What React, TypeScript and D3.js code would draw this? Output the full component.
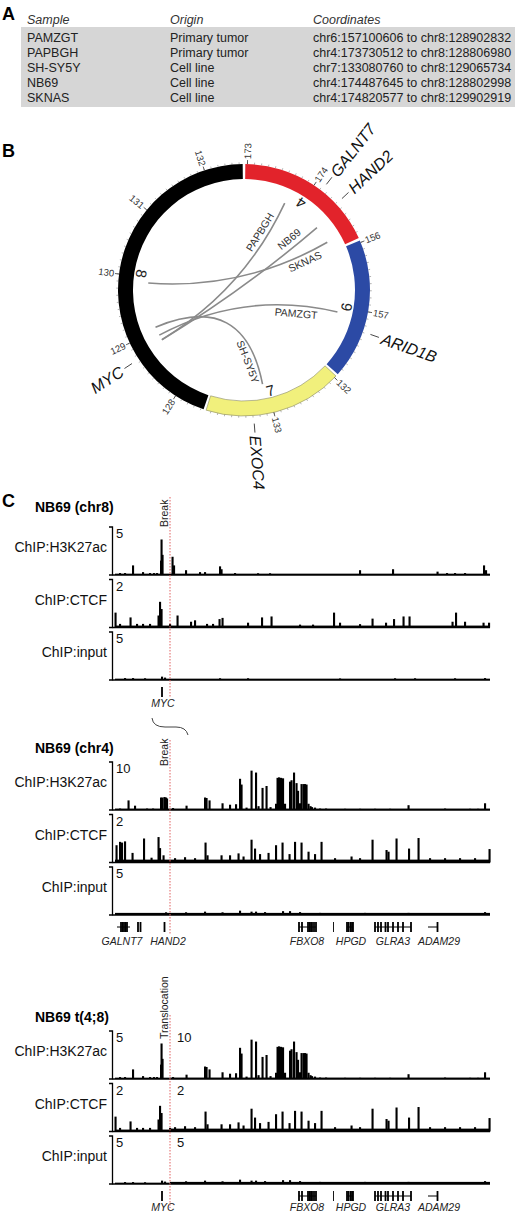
import React, { useEffect, useRef } from "react";
import * as d3 from "d3";

// ---------- panel A: table ----------
const tableHeader = ["Sample", "Origin", "Coordinates"];
const samples = ["PAMZGT", "PAPBGH", "SH-SY5Y", "NB69", "SKNAS"];
const origins = ["Primary tumor", "Primary tumor", "Cell line", "Cell line", "Cell line"];
const coordinates = [
  "chr6:157100606 to chr8:128902832",
  "chr4:173730512 to chr8:128806980",
  "chr7:133080760 to chr8:129065734",
  "chr4:174487645 to chr8:128802998",
  "chr4:174820577 to chr8:129902919",
];

// ---------- panel B: circos ----------
const chromNames = ["4", "6", "7", "8"];
const chromStart = [172.97, 155.97, 131.97, 127.56]; // Mb
const chromEnd = [174.99, 157.99, 133.97, 132.55];
const chromColors = ["#e2232b", "#2c4aa5", "#f1f07c", "#000000"];
// label placement along each link (bezier t, normal offset)
const linkLabelT = [0.22, 0.2, 0.15, 0.15, 0.15];
const linkLabelOffset = [8, -8, 8, -9, 7];
const circosGenes = ["GALNT7", "HAND2", "ARID1B", "EXOC4", "MYC"];
const circosGeneChrom = ["4", "4", "6", "7", "8"];
const circosGeneMb = [174.13, 174.41, 157.29, 133.29, 128.74];

// ---------- panel C: ChIP tracks, positions in kb within the 750 kb window ----------
const trackNames = ["ChIP:H3K27ac", "ChIP:CTCF", "ChIP:input"];
const chr8Max = [5, 2, 5];
const chr4Max = [10, 2, 5];
const breakKb = 110;

const chr8H3K27ac = [
  [10, 0.2], [20, 0.2], [36, 1.0], [56, 0.3], [70, 0.2], [78, 0.2], [84, 0.2],
  [92, 1.5], [93, 3.7], [95, 2.1], [115, 1.9], [118, 1.0], [142, 0.5], [170, 0.3],
  [180, 0.3], [210, 0.9], [213, 0.6], [240, 0.2], [286, 0.18], [310, 0.18],
  [490, 0.5], [556, 0.6], [645, 0.35], [664, 0.2], [680, 0.2], [700, 0.2],
  [738, 1.0], [742, 0.5],
];
const chr8CTCF = [
  [1, 0.62], [10, 0.15], [31, 0.42], [44, 0.15], [56, 0.15], [70, 0.15], [87, 0.5],
  [90, 1.07], [93, 0.77], [110, 0.15], [125, 0.5], [152, 0.24], [160, 0.3], [184, 0.15],
  [196, 0.15], [209, 0.35], [215, 0.4], [266, 0.2], [294, 0.42], [313, 0.46], [370, 0.12],
  [396, 0.12], [438, 0.62], [450, 0.2], [490, 0.14], [515, 0.37], [542, 0.2], [558, 0.35],
  [577, 0.46], [589, 0.46], [675, 0.24], [682, 0.62], [700, 0.24], [737, 0.2], [748, 0.2],
];
const chr8Input = [
  [20, 0.2], [36, 0.2], [60, 0.18], [94, 0.35], [100, 0.25], [210, 0.18], [266, 0.18],
  [450, 0.16], [560, 0.18], [600, 0.18], [680, 0.18], [740, 0.2],
];
const chr8Floors = [0.14, 0.08, 0.14];

const chr4H3K27ac = [
  [10, 0.3], [27, 2.0], [40, 0.9], [64, 0.3], [76, 0.3], [92, 2.6], [95, 2.6], [99, 2.7],
  [102, 2.6], [104, 2.4], [116, 0.4], [143, 0.9], [180, 2.6], [183, 2.5], [189, 2.0],
  [215, 1.4], [230, 1.1], [242, 1.2], [250, 6.5], [253, 5.3], [263, 0.5], [273, 8.2],
  [282, 7.8], [287, 0.8], [295, 4.6], [303, 5.0], [311, 0.6], [322, 1.3], [325, 6.7],
  [328, 6.8], [332, 6.7], [336, 6.6], [340, 1.3], [350, 5.9], [353, 6.2], [358, 7.8],
  [363, 5.6], [366, 4.0], [370, 1.4], [373, 5.4], [377, 5.4], [380, 5.4], [383, 5.3],
  [387, 1.3], [391, 0.8], [394, 0.6], [400, 0.5], [410, 0.3], [422, 0.3], [460, 0.25],
  [490, 0.25], [520, 0.25], [550, 0.25], [587, 1.0], [660, 0.3], [710, 0.25], [726, 0.25],
  [740, 1.4],
];
const chr4CTCF = [
  [3, 0.72], [10, 0.86], [14, 0.83], [20, 0.88], [35, 0.4], [58, 1.0], [73, 0.2],
  [87, 1.06], [90, 0.6], [97, 0.3], [120, 0.18], [140, 0.22], [160, 0.18], [181, 0.83],
  [185, 0.3], [213, 0.3], [230, 0.3], [247, 0.38], [257, 0.25], [273, 0.95], [280, 0.58],
  [290, 0.35], [307, 0.4], [322, 0.72], [335, 0.83], [349, 0.35], [360, 0.86], [373, 0.83],
  [387, 0.45], [400, 0.35], [413, 0.86], [440, 0.18], [473, 0.25], [490, 0.18], [515, 0.95],
  [543, 0.52], [547, 0.45], [563, 1.0], [588, 0.58], [607, 1.02], [630, 0.18], [660, 0.18],
  [690, 0.18], [720, 0.18], [749, 0.56],
];
const chr4Input = [
  [102, 0.28], [142, 0.28], [180, 0.35], [215, 0.28], [250, 0.45], [273, 0.35], [282, 0.35],
  [300, 0.3], [336, 0.4], [350, 0.4], [370, 0.3], [410, 0.22], [500, 0.22], [587, 0.22],
  [740, 0.3],
];
const chr4Floors = [0.3, 0.12, 0.22];

// gene models (kb): name, start, end, exons, label centre
const chr4GeneNames = ["GALNT7", "HAND2", "FBXO8", "", "HPGD", "GLRA3", "ADAM29"];
const chr4GeneStart = [4, 99, 368, 438, 464, 520, 626];
const chr4GeneEnd = [30, 99, 402, 438, 476, 592, 646];
const chr4GeneExons = [
  [12, 15, 18, 21, 24, 46, 51],
  [99],
  [368, 374, 386, 389, 392, 394, 398, 402],
  [438],
  [464, 467, 471, 474, 476],
  [520, 526, 532, 541, 546, 556, 566, 576, 592],
  [645],
];
const chr4GeneLabel = [14, 106, 384, 0, 472, 556, 648];
const chr8GeneNames = ["MYC"];
const chr8GeneStart = [94];
const chr8GeneEnd = [94];
const chr8GeneExons = [[94]];
const chr8GeneLabel = [96];

const FONT = "'Liberation Sans', Arial, Helvetica, sans-serif";

export default function App() {
  const svgRef = useRef<SVGSVGElement>(null);

  useEffect(() => {
    const svg = d3.select(svgRef.current);
    svg.selectAll("*").remove();
    svg.attr("font-family", FONT);

    // ================= A =================
    svg.append("text").attr("x", 2).attr("y", 20).attr("font-size", 18)
      .attr("font-weight", "bold").text("A");

    const colX = [27, 170, 313];
    const rowY = d3.scalePoint().domain(samples).range([42, 102]);
    svg.append("rect").attr("x", 21).attr("y", 27).attr("width", 494).attr("height", 80)
      .attr("fill", "#d6d6d6");
    svg.selectAll(".hdr").data(tableHeader).join("text")
      .attr("x", (d, i) => colX[i]).attr("y", 24).attr("font-size", 12.5)
      .attr("font-style", "italic").attr("fill", "#333").text((d) => d);
    const rows = samples.map((s, i) => [s, origins[i], coordinates[i]]);
    rows.forEach((r, ri) => {
      r.forEach((cell, ci) => {
        svg.append("text").attr("x", colX[ci]).attr("y", rowY(samples[ri]))
          .attr("font-size", 12.5).attr("fill", "#222").text(cell);
      });
    });

    // ================= B =================
    svg.append("text").attr("x", 2).attr("y", 157).attr("font-size", 18)
      .attr("font-weight", "bold").text("B");

    const cx = 244, cy = 290, rIn = 111, rOut = 126, rLink = 96;
    const gapDeg = 1.2;
    const totalMb = d3.sum(chromEnd.map((e, i) => e - chromStart[i]));
    const degPerMb = (360 - gapDeg * chromNames.length) / totalMb;
    let acc = gapDeg / 2;
    const segs = chromNames.map((name, i) => {
      const a0 = acc;
      const a1 = a0 + (chromEnd[i] - chromStart[i]) * degPerMb;
      acc = a1 + gapDeg;
      return {
        name, a0, a1, start: chromStart[i], end: chromEnd[i], color: chromColors[i],
        scale: d3.scaleLinear().domain([chromStart[i], chromEnd[i]]).range([a0, a1]),
      };
    });
    const ang = (chr: string, mb: number) => segs.find((s) => s.name === chr)!.scale(mb);
    const polar = (a: number, r: number): [number, number] => [
      cx + r * Math.sin((a * Math.PI) / 180),
      cy - r * Math.cos((a * Math.PI) / 180),
    ];

    const gB = svg.append("g");
    const arc = d3.arc<any>();
    gB.selectAll(".seg").data(segs).join("path")
      .attr("transform", `translate(${cx},${cy})`)
      .attr("d", (d) => arc({
        innerRadius: rIn, outerRadius: rOut,
        startAngle: (d.a0 * Math.PI) / 180, endAngle: (d.a1 * Math.PI) / 180,
      }))
      .attr("fill", (d) => d.color)
      .attr("stroke", (d) => (d.name === "7" ? "#8a8a6a" : "none"))
      .attr("stroke-width", 0.6);

    // minor + major ticks
    segs.forEach((s) => {
      const minor = d3.range(Math.ceil(s.start * 10), Math.floor(s.end * 10) + 1).map((v) => v / 10);
      minor.forEach((mb) => {
        const a = s.scale(mb);
        const [x1, y1] = polar(a, rOut);
        const [x2, y2] = polar(a, rOut + 1.8);
        gB.append("line").attr("x1", x1).attr("y1", y1).attr("x2", x2).attr("y2", y2)
          .attr("stroke", "#666").attr("stroke-width", 0.5);
      });
      const major = d3.range(Math.ceil(s.start), Math.floor(s.end) + 1);
      major.forEach((mb) => {
        const a = s.scale(mb);
        const [x1, y1] = polar(a, rOut);
        const [x2, y2] = polar(a, rOut + 4);
        gB.append("line").attr("x1", x1).attr("y1", y1).attr("x2", x2).attr("y2", y2)
          .attr("stroke", "#333").attr("stroke-width", 0.8);
        const [tx, ty] = polar(a, rOut + 5);
        const right = a < 180;
        gB.append("text")
          .attr("transform", `translate(${tx},${ty}) rotate(${right ? a - 90 : a + 90})`)
          .attr("text-anchor", right ? "start" : "end").attr("dy", "0.35em")
          .attr("font-size", 9.5).attr("fill", "#333").text(mb);
      });
      // chromosome number
      const mid = (s.a0 + s.a1) / 2;
      const [nx, ny] = polar(mid, 104);
      gB.append("text").attr("transform", `translate(${nx},${ny}) rotate(${mid - 180})`)
        .attr("text-anchor", "middle").attr("dy", "0.35em").attr("font-size", 15)
        .attr("fill", "#222").text(s.name);
    });

    // links
    coordinates.forEach((c, i) => {
      const [a, b] = c.split(" to ");
      const [ca, pa] = a.replace("chr", "").split(":");
      const [cb, pb] = b.replace("chr", "").split(":");
      const p1 = polar(ang(ca, +pa / 1e6), rLink);
      const p2 = polar(ang(cb, +pb / 1e6), rLink);
      gB.append("path")
        .attr("d", `M${p1[0]},${p1[1]} Q${cx},${cy} ${p2[0]},${p2[1]}`)
        .attr("fill", "none").attr("stroke", "#8a8a8a").attr("stroke-width", 1.6);
      const t = linkLabelT[i];
      const bx = (1 - t) ** 2 * p1[0] + 2 * t * (1 - t) * cx + t * t * p2[0];
      const by = (1 - t) ** 2 * p1[1] + 2 * t * (1 - t) * cy + t * t * p2[1];
      let dx = 2 * (1 - t) * (cx - p1[0]) + 2 * t * (p2[0] - cx);
      let dy = 2 * (1 - t) * (cy - p1[1]) + 2 * t * (p2[1] - cy);
      if (dx < 0) { dx = -dx; dy = -dy; }
      const len = Math.hypot(dx, dy);
      const ux = dx / len, uy = dy / len;
      const nx = -uy, ny = ux;
      const off = linkLabelOffset[i];
      const rot = (Math.atan2(uy, ux) * 180) / Math.PI;
      gB.append("text")
        .attr("transform", `translate(${bx + nx * off},${by + ny * off}) rotate(${rot})`)
        .attr("text-anchor", "middle").attr("dy", "0.35em").attr("font-size", 10.5)
        .attr("fill", "#333").text(samples[i]);
    });

    // gene labels around ring
    circosGenes.forEach((g, i) => {
      const a = ang(circosGeneChrom[i], circosGeneMb[i]);
      const [x1, y1] = polar(a, rOut + 8);
      const [x2, y2] = polar(a, rOut + 17);
      gB.append("line").attr("x1", x1).attr("y1", y1).attr("x2", x2).attr("y2", y2)
        .attr("stroke", "#333").attr("stroke-width", 0.9);
      const [tx, ty] = polar(a, rOut + 20);
      const right = a < 180;
      gB.append("text")
        .attr("transform", `translate(${tx},${ty}) rotate(${right ? a - 90 : a + 90})`)
        .attr("text-anchor", right ? "start" : "end").attr("dy", "0.35em")
        .attr("font-size", 16).attr("font-style", "italic").attr("fill", "#111").text(g);
    });

    // ================= C =================
    svg.append("text").attr("x", 2).attr("y", 507).attr("font-size", 18)
      .attr("font-weight", "bold").text("C");

    const x = d3.scaleLinear().domain([0, 750]).range([115, 490]);
    const trackH = 48, pitch = 52.5;

    const panels = [
      { title: "NB69 (chr8)", titleY: 512, top: 527, split: false, data: "chr8",
        marker: "Break", lineY: [497, 697], markerY: 527 },
      { title: "NB69 (chr4)", titleY: 753, top: 762, split: false, data: "chr4",
        marker: "Break", lineY: [740, 935], markerY: 766 },
      { title: "NB69 t(4;8)", titleY: 1022, top: 1031, split: true, data: "chr4",
        marker: "Translocation", lineY: [1015, 1208], markerY: 1039 },
    ];
    const dataSets: Record<string, { tracks: number[][][]; floors: number[]; max: number[] }> = {
      chr8: { tracks: [chr8H3K27ac, chr8CTCF, chr8Input], floors: chr8Floors, max: chr8Max },
      chr4: { tracks: [chr4H3K27ac, chr4CTCF, chr4Input], floors: chr4Floors, max: chr4Max },
    };

    const drawSignal = (g: any, ds: any, k: number, kb0: number, kb1: number, top: number, base: number) => {
      const y = d3.scaleLinear().domain([0, ds.max[k]]).range([base, top]);
      g.append("rect").attr("x", x(kb0)).attr("width", x(kb1) - x(kb0))
        .attr("y", y(ds.floors[k])).attr("height", base - y(ds.floors[k])).attr("fill", "#000");
      g.selectAll(null)
        .data(ds.tracks[k].filter((d: number[]) => d[0] >= kb0 && d[0] <= kb1))
        .join("rect")
        .attr("x", (d: number[]) => x(d[0]) - 1).attr("width", 2.1)
        .attr("y", (d: number[]) => y(d[1]))
        .attr("height", (d: number[]) => base - y(d[1])).attr("fill", "#000");
    };

    const drawGenes = (g: any, names: string[], starts: number[], ends: number[], exons: number[][],
      labels: number[], yc: number, ly: number, kb0: number, kb1: number) => {
      names.forEach((n, i) => {
        if (starts[i] < kb0 || starts[i] > kb1) return;
        if (ends[i] > starts[i]) {
          g.append("line").attr("x1", x(starts[i])).attr("x2", x(ends[i]))
            .attr("y1", yc).attr("y2", yc).attr("stroke", "#000").attr("stroke-width", 1);
        }
        exons[i].forEach((e) => {
          g.append("rect").attr("x", x(e) - 0.9).attr("width", n ? 1.8 : 0.9)
            .attr("y", yc - 5).attr("height", 10).attr("fill", "#000");
        });
        if (n) {
          g.append("text").attr("x", x(labels[i])).attr("y", ly).attr("text-anchor", "middle")
            .attr("font-size", 10.5).attr("font-style", "italic").attr("fill", "#222").text(n);
        }
      });
    };

    panels.forEach((p) => {
      const g = svg.append("g");
      g.append("text").attr("x", 35).attr("y", p.titleY).attr("font-size", 14)
        .attr("font-weight", "bold").text(p.title);

      trackNames.forEach((name, k) => {
        const top = p.top + k * pitch;
        const base = top + trackH;
        if (p.split) {
          drawSignal(g, dataSets.chr8, k, 0, breakKb, top, base);
          drawSignal(g, dataSets.chr4, k, breakKb, 750, top, base);
        } else {
          drawSignal(g, dataSets[p.data], k, 0, 750, top, base);
        }
        g.append("path").attr("d", `M109,${top} H112.5 V${base} H109`)
          .attr("fill", "none").attr("stroke", "#000").attr("stroke-width", 1.3);
        g.append("line").attr("x1", 112.5).attr("x2", x(750)).attr("y1", base).attr("y2", base)
          .attr("stroke", "#000").attr("stroke-width", 1.6);
        g.append("text").attr("x", 107).attr("y", top + 25).attr("text-anchor", "end")
          .attr("font-size", 14).attr("fill", "#111").text(name);
        const leftMax = p.split ? chr8Max[k] : dataSets[p.data].max[k];
        g.append("text").attr("x", 116).attr("y", top + 11).attr("font-size", 13)
          .attr("fill", "#111").text(leftMax);
        if (p.split) {
          g.append("text").attr("x", x(breakKb) + 7).attr("y", top + 11).attr("font-size", 13)
            .attr("fill", "#111").text(chr4Max[k]);
        }
      });

      // genes
      const inputBase = p.top + 2 * pitch + trackH;
      const yc = inputBase + 12;
      const ly = inputBase + (p.data === "chr4" && !p.split ? 30 : 27);
      if (p.data === "chr8") {
        drawGenes(g, chr8GeneNames, chr8GeneStart, chr8GeneEnd, chr8GeneExons, chr8GeneLabel, yc, ly, 0, 750);
      } else if (!p.split) {
        drawGenes(g, chr4GeneNames, chr4GeneStart, chr4GeneEnd, chr4GeneExons, chr4GeneLabel, yc, ly, 0, 750);
      } else {
        drawGenes(g, chr8GeneNames, chr8GeneStart, chr8GeneEnd, chr8GeneExons, chr8GeneLabel, yc, ly, 0, breakKb);
        drawGenes(g, chr4GeneNames, chr4GeneStart, chr4GeneEnd, chr4GeneExons, chr4GeneLabel, yc, ly, breakKb, 750);
      }

      // break / translocation marker
      g.append("line").attr("x1", x(breakKb)).attr("x2", x(breakKb))
        .attr("y1", p.lineY[0]).attr("y2", p.lineY[1])
        .attr("stroke", "#e06060").attr("stroke-width", 1).attr("stroke-dasharray", "1.5,1.5");
      g.append("text")
        .attr("transform", `translate(${x(breakKb) - 2.5},${p.markerY}) rotate(-90)`)
        .attr("font-size", 10.5).attr("fill", "#222").text(p.marker);
    });

    // brace linking MYC to chr4 view
    svg.append("path").attr("d", "M152,718 Q153,727 165,727 L176,727 Q186,727 188,735")
      .attr("fill", "none").attr("stroke", "#444").attr("stroke-width", 1);
  }, []);

  return (
    <svg ref={svgRef} width={520} height={1217}
      style={{ position: "absolute", left: 0, top: 0, background: "#fff" }} />
  );
}
